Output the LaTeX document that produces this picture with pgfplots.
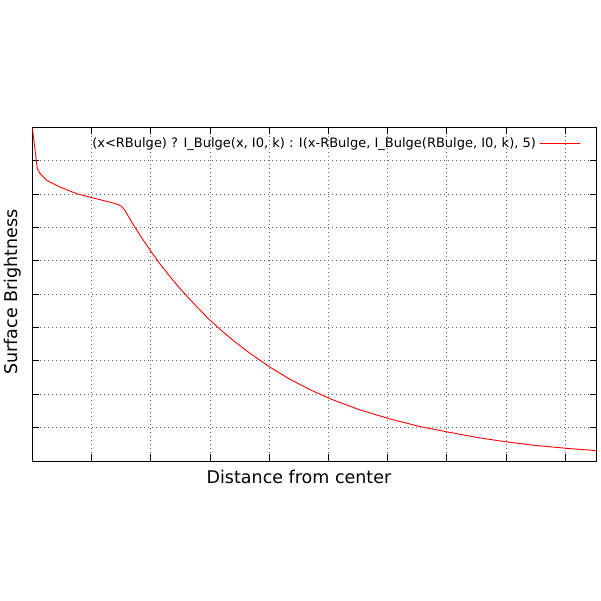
\documentclass[border=0pt]{standalone}
\usepackage{pgfplots}
\pgfplotsset{compat=1.18}
\usepackage{fontspec}
\setmainfont{DejaVu Sans}
\begin{document}
\begin{tikzpicture}
\begin{axis}[
  at={(32.3bp,140bp)}, anchor=south west,
  scale only axis, width=564.4bp, height=333.7bp,
  xmin=0, xmax=9.53, ymin=0, ymax=10,
  xtick={0,1,...,9}, ytick={0,1,...,10},
  xticklabels={}, yticklabels={},
  tick align=inside, major tick length=7bp,
  every tick/.style={black, line width=0.9bp},
  axis line style={black, line width=0.9bp},
  grid=major,
  grid style={black!60, line width=0.8bp, dash pattern=on 0.8bp off 3.2bp},
  xlabel={Distance from center},
  ylabel={Surface Brightness},
  label style={font=\fontsize{17.5bp}{20bp}\selectfont},
  xlabel style={at={(axis description cs:0.4725,-0.048)}, anchor=center, inner sep=0pt},
  ylabel style={at={(axis description cs:-0.0342,0.506)}, anchor=center, inner sep=0pt, rotate=0},
  legend plot pos=right,
  legend image code/.code={\draw[#1] (0bp,0bp) -- (40bp,0bp);},
  legend style={at={(axis description cs:0.9722,0.953)}, anchor=east, draw=none, fill=none,
    inner sep=0pt, font=\fontsize{13bp}{15bp}\selectfont, nodes={inner sep=4bp}},
]
\addplot[red, line width=0.9bp, line join=round] coordinates {
(0,10.0) (0.084,8.76) (0.13,8.62) (0.243,8.41) (0.468,8.21) (0.75,8.01)
(1.03,7.88) (1.144,7.83) (1.30,7.76) (1.426,7.70) (1.50,7.64) (1.56,7.52)
(1.706,7.08) (1.85,6.68) (1.988,6.32) (2.15,5.92) (2.30,5.58) (2.45,5.26)
(2.61,4.94) (2.80,4.58) (3.0,4.22) (3.2,3.90) (3.40,3.60) (3.68,3.22)
(4.015,2.81) (4.35,2.45) (4.70,2.13) (5.05,1.85) (5.535,1.53)
(6.04,1.26) (6.55,1.03) (7.04,0.86) (7.56,0.69) (8.02,0.57) (8.5,0.465)
(9.02,0.38) (9.53,0.31)
};
\addlegendentry{(x<RBulge) ? I\_Bulge(x, I0, k) : I(x-RBulge, I\_Bulge(RBulge, I0, k), 5)}
\end{axis}
\pgfresetboundingbox
\path (0,0) rectangle (601bp,601bp);
\end{tikzpicture}
\end{document}
